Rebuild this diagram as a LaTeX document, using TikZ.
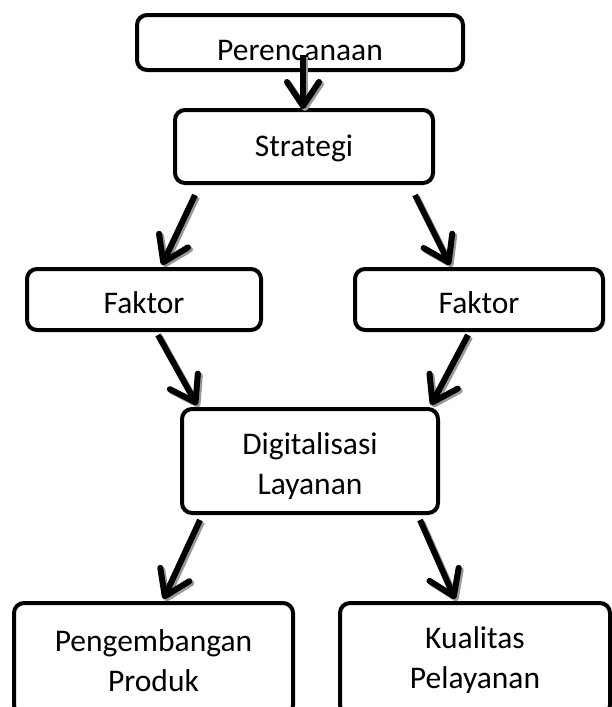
\documentclass[tikz,border=0pt]{standalone}
\usepackage{fontspec}
\setmainfont{Carlito}
\usetikzlibrary{arrows.meta}
\newcommand{\low}[2][4pt]{\raisebox{-#1}[\height][\depth]{#2}}

\begin{document}
\begin{tikzpicture}[
x=1pt, y=-1pt,
box/.style={draw, line width=4pt, rounded corners=10pt, inner sep=0pt, outer sep=0pt,
  align=center, font=\fontsize{31.5}{40}\selectfont},
arr/.style={line width=6pt, -{Straight Barb[length=24pt,width=32pt,round]}},
]
\useasboundingbox (0,0) rectangle (611,707);
\node[box, minimum width=326pt, minimum height=55pt, text height=35pt, text depth=0pt] (plan) at (300,42.5) {Perencanaan};
\node[box, minimum width=258pt, minimum height=73pt] (strat) at (304,146.5) {\low[2pt]{Strategi}};
\node[box, minimum width=234pt, minimum height=61pt] (faktorL) at (144,299.5) {\low[3pt]{Faktor}};
\node[box, minimum width=248pt, minimum height=61pt] (faktorR) at (479,299.5) {\low[3pt]{Faktor}};
\node[box, minimum width=256pt, minimum height=104pt] (digi) at (310,461) {\low[5pt]{Digitalisasi}\\\low[5pt]{Layanan}};
\node[box, minimum width=279pt, minimum height=112pt] (prod) at (153.5,659) {\low[1.5pt]{Pengembangan}\\\low[1.5pt]{Produk}};
\node[box, minimum width=270pt, minimum height=112pt] (kual) at (475,659) {\low[1.5pt]{Kualitas}\\\low[1.5pt]{Pelayanan}};
\foreach \col/\off in {black!40/2pt, black/0pt} {
\begin{scope}[arr, color=\col, transform canvas={shift={(\off,-\off)}}]
\draw ([xshift=3pt,yshift=15pt]plan.south) -- ([xshift=-1pt,yshift=1pt]strat.north);
\draw ([xshift=-109pt,yshift=-12pt]strat.south) -- ([xshift=18pt,yshift=4pt]faktorL.north);
\draw ([xshift=111pt,yshift=-12pt]strat.south) -- ([xshift=-29pt,yshift=4pt]faktorR.north);
\draw ([xshift=14pt,yshift=-5pt]faktorL.south) -- ([xshift=15pt,yshift=4pt]digi.north west);
\draw ([xshift=-11pt,yshift=-5pt]faktorR.south) -- ([xshift=-7pt,yshift=4pt]digi.north east);
\draw ([xshift=18pt,yshift=-7pt]digi.south west) -- ([xshift=10pt,yshift=4pt]prod.north);
\draw ([xshift=-18pt,yshift=-7pt]digi.south east) -- ([xshift=-20pt,yshift=4pt]kual.north);
\end{scope}
}
\end{tikzpicture}
\end{document}
